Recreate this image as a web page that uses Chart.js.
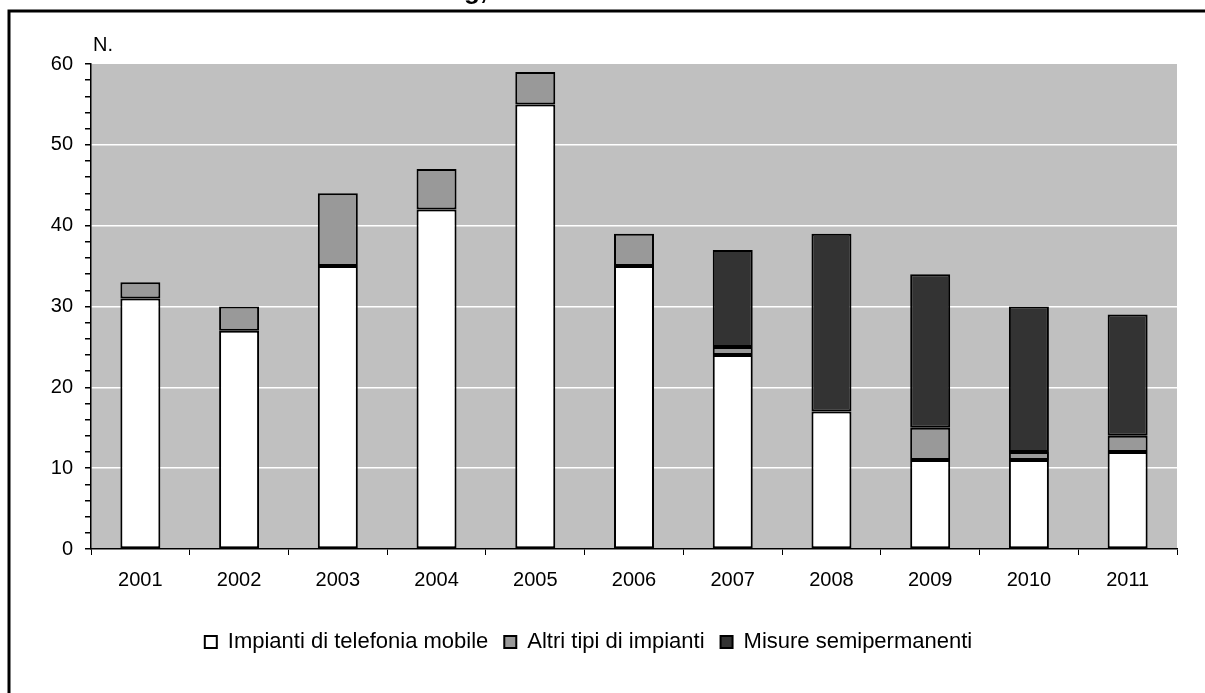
<!DOCTYPE html>
<html>
<head>
<meta charset="utf-8">
<script src="https://cdn.jsdelivr.net/npm/chart.js@4"></script>
<style>
  html, body { margin: 0; padding: 0; background: #fff; overflow: hidden; }
</style>
</head>
<body>
<canvas id="myChart" width="1205" height="693"></canvas>
<script>
// data
const anni = ['2001','2002','2003','2004','2005','2006','2007','2008','2009','2010','2011'];
const telefonia = [31, 27, 35, 42, 55, 35, 24, 17, 11, 11, 12];
const altriImpianti = [2, 3, 9, 5, 4, 4, 1, 0, 4, 1, 2];
const semipermanenti = [0, 0, 0, 0, 0, 0, 12, 22, 19, 18, 15];
const yTicks = [0, 10, 20, 30, 40, 50, 60];

const font = 'Arial, "Liberation Sans", sans-serif';

// grey plot background, frame, "N." label and the clipped title bit
const sfondo = {
  id: 'sfondo',
  beforeDraw(chart) {
    const c = chart.ctx, a = chart.chartArea;
    c.save();
    c.fillStyle = '#c0c0c0';
    c.fillRect(a.left, a.top, a.right - a.left, a.bottom - a.top);
    c.restore();
  },
  afterDraw(chart) {
    const c = chart.ctx, a = chart.chartArea;
    c.save();
    c.strokeStyle = '#000';
    c.lineWidth = 3;
    c.beginPath();
    c.moveTo(9, 700);
    c.lineTo(9, 11);
    c.lineTo(1210, 11);
    c.stroke();
    c.fillStyle = '#000';
    c.font = '20px ' + font;
    c.textBaseline = 'middle';
    c.fillText('N.', a.left + 2, 45);
    c.font = 'bold 26px ' + font;
    c.textBaseline = 'alphabetic';
    c.fillText('g,', 464, -1);
    c.restore();
  }
};

let myChart = document.getElementById('myChart').getContext('2d');

let barChart = new Chart(myChart, {
  type: 'bar',
  data: {
    labels: anni,
    datasets: [
      { label: 'Impianti di telefonia mobile', data: telefonia, backgroundColor: '#ffffff' },
      { label: 'Altri tipi di impianti', data: altriImpianti, backgroundColor: '#999999' },
      { label: 'Misure semipermanenti', data: semipermanenti, backgroundColor: '#333333' }
    ].map(d => Object.assign(d, {
      borderColor: '#000',
      borderWidth: c => (c.raw === 0 ? 0 : 2),
      borderSkipped: false,
      barPercentage: 0.405, categoryPercentage: 1
    }))
  },
  options: {
    responsive: false,
    animation: false,
    devicePixelRatio: 1,
    layout: { padding: { left: 0, right: 28, top: 64, bottom: 30 } },
    plugins: {
      tooltip: { enabled: false },
      legend: {
        position: 'bottom',
        labels: {
          color: '#000',
          font: { family: font, size: 22 },
          boxWidth: 12, boxHeight: 12,
          padding: 16,
          generateLabels(chart) {
            return chart.data.datasets.map((d, i) => ({
              text: d.label, fillStyle: d.backgroundColor, strokeStyle: '#000',
              lineWidth: 2, hidden: false, datasetIndex: i, fontColor: '#000'
            }));
          }
        }
      }
    },
    scales: {
      x: {
        stacked: true,
        offset: true,
        border: { color: '#000', width: 1.5 },
        grid: { offset: true, drawOnChartArea: false, tickLength: 6, tickColor: '#000' },
        ticks: { color: '#000', font: { family: font, size: 20 }, padding: 13, maxRotation: 0 },
        afterFit(s) { s.height = 66; }
      },
      y: {
        stacked: true,
        min: 0, max: 60,
        border: { color: '#000', width: 1.5 },
        grid: {
          color: c => (c.tick && c.tick.value % 10 === 0 && c.tick.value > 0 && c.tick.value < 60) ? '#ffffff' : 'rgba(0,0,0,0)',
          lineWidth: 1.5,
          tickLength: 6,
          tickColor: '#000'
        },
        ticks: {
          stepSize: 2,
          autoSkip: false,
          color: '#000',
          font: { family: font, size: 20 },
          padding: 12,
          callback: v => yTicks.includes(v) ? v : ''
        },
        afterFit(s) { s.width = 91; }
      }
    }
  },
  plugins: [sfondo]
});
</script>
</body>
</html>
